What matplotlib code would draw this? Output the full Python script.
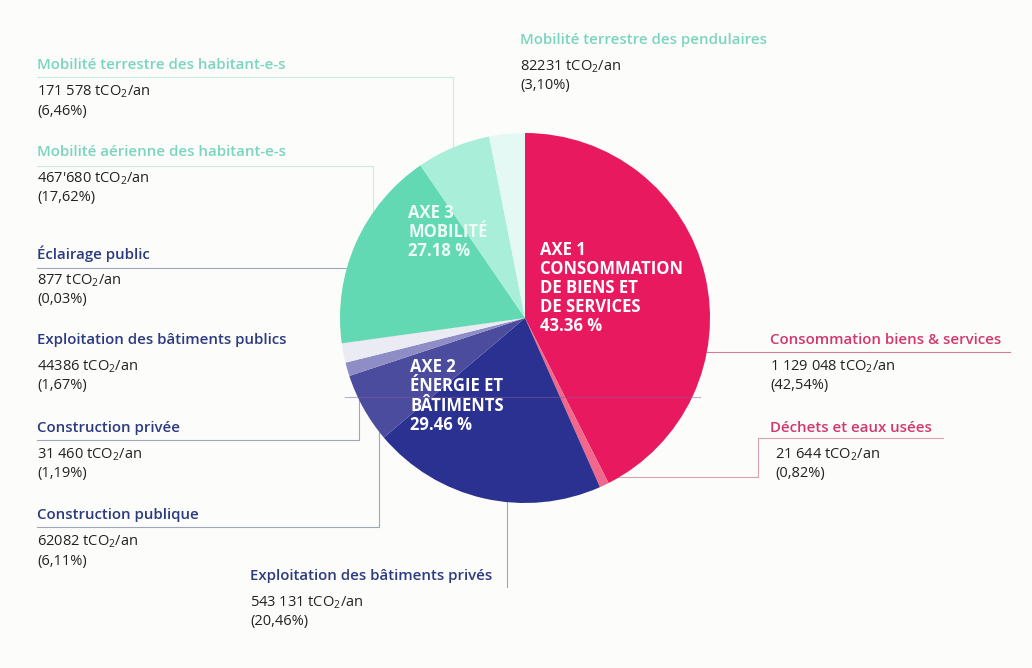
import matplotlib.pyplot as plt

plt.rcParams['font.family'] = ['Open Sans', 'DejaVu Sans']
plt.rcParams['mathtext.fontset'] = 'custom'
plt.rcParams['mathtext.rm'] = 'Open Sans'

# data, clockwise from 12 o'clock
postes = ["Consommation biens & services", "Déchets et eaux usées",
          "Exploitation des bâtiments privés", "Construction publique",
          "Construction privée", "Exploitation des bâtiments publics",
          "Éclairage public", "Mobilité aérienne des habitant-e-s",
          "Mobilité terrestre des habitant-e-s", "Mobilité terrestre des pendulaires"]
parts = [42.54, 0.82, 20.46, 6.11, 1.19, 1.67, 0.03, 17.62, 6.46, 3.10]
emissions = ["1 129 048", "21 644", "543 131", "62082", "31 460", "44386",
             "877", "467'680", "171 578", "82231"]
pct_txt = ["42,54", "0,82", "20,46", "6,11", "1,19", "1,67", "0,03",
           "17,62", "6,46", "3,10"]
couleurs = ["#e8195e", "#f2688c", "#2b3190", "#4b4c9e", "#8e8dc6", "#ebebf4",
            "#cfcfe6", "#62d8b3", "#a9eed8", "#e4f9f3"]
axes_txt = ["AXE 1\nCONSOMMATION\nDE BIENS ET\nDE SERVICES\n43.36 %",
            "AXE 2\nÉNERGIE ET\nBÂTIMENTS\n29.46 %",
            "AXE 3\nMOBILITÉ\n27.18 %"]

W, H = 1032, 668
fig = plt.figure(figsize=(W / 100, H / 100), dpi=100)
fig.patch.set_facecolor("#fcfcfa")
ax = fig.add_axes([0, 0, 1, 1])
ax.set_facecolor("#fcfcfa")

def Y(y):
    return H - y

cx, cy, r = 525, 318, 185
ax.pie(parts, colors=couleurs, startangle=90, counterclock=False,
       center=(cx, Y(cy)), radius=r, wedgeprops=dict(linewidth=0, zorder=2))

teal = "#7ad5be"
bleu = "#2c3a80"
rose = "#d2386e"
noir = "#222222"

# leader lines
def ligne(xs, ys, c="#9ea6ba", z=1, a=1.0):
    ax.plot(xs, [Y(v) for v in ys], color=c, lw=0.8, zorder=z, alpha=a)

ligne([37, 453, 453], [77, 77, 150], c="#c8ece2")
ligne([37, 373, 373], [166, 166, 213], c="#c8ece2")
ligne([37, 359, 359], [268, 268, 440])
ligne([37, 359], [440, 440])
ligne([37, 379, 379], [527, 527, 432])
ligne([507, 507], [497, 587])
ligne([700, 1010], [352, 352], c="#d9789c")
ligne([943, 758, 758, 600], [438, 438, 477, 477], c="#d9a0b4")
ligne([345, 700], [397, 397], c="#8a5a9a", z=3, a=0.5)

# annotation blocks: (index, x, title y, color)
blocs = [(8, 37, 65, teal), (7, 37, 152, teal), (6, 37, 254, bleu),
         (5, 37, 340, bleu), (4, 37, 428, bleu), (3, 37, 515, bleu),
         (2, 250, 576, bleu), (9, 520, 40, teal), (0, 770, 340, rose),
         (1, 770, 428, rose)]
for i, x, y, c in blocs:
    ax.text(x, Y(y), postes[i], color=c, fontsize=10.8, fontweight="semibold",
            va="center", ha="left")
    dx = 5 if i == 1 else 0
    ax.text(x + dx, Y(y + 27), emissions[i] + r" tCO$_2$/an", color=noir,
            fontsize=10.5, va="center", ha="left")
    ax.text(x + dx, Y(y + 46), "(" + pct_txt[i] + "%)", color=noir,
            fontsize=10.5, va="center", ha="left")

# axis labels inside the pie
ax.text(540, Y(288), axes_txt[0], color="white", fontsize=12, fontweight="bold",
        va="center", ha="left", linespacing=1.08, zorder=4)
ax.text(410, Y(396), axes_txt[1], color="white", fontsize=12, fontweight="bold",
        va="center", ha="left", linespacing=1.08, zorder=4)
ax.text(408, Y(232), axes_txt[2], color="#eefbf6", fontsize=12, fontweight="bold",
        va="center", ha="left", linespacing=1.08, zorder=4)

ax.set_xlim(0, W)
ax.set_ylim(0, H)
ax.set_aspect("auto")
ax.axis("off")

fig.savefig("out.png", dpi=100, facecolor=fig.get_facecolor())
